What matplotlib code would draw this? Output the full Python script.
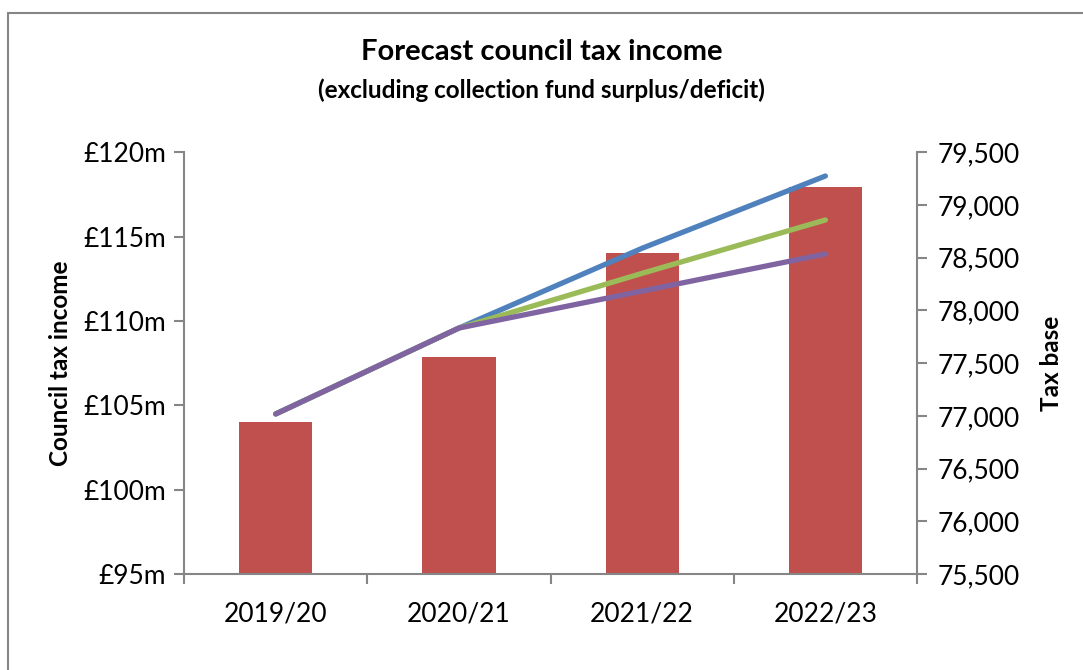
import matplotlib.pyplot as plt
from matplotlib.patches import Rectangle
from matplotlib.ticker import FuncFormatter, MultipleLocator
import numpy as np

# data
years = ['2019/20', '2020/21', '2021/22', '2022/23']
income = [104.03, 107.88, 114.05, 117.92]          # £m, bars (left axis)
base_high = [77018, 77833, 78590, 79275]           # tax base, blue
base_mid = [77018, 77833, 78352, 78858]            # tax base, green
base_low = [77018, 77833, 78184, 78535]            # tax base, purple

plt.rcParams['font.family'] = ['Lato', 'DejaVu Sans']
grey = '#868686'

fig = plt.figure(figsize=(10.83, 6.70), dpi=100)
ax = fig.add_axes([0.170, 0.1433, 0.6767, 0.6294])
ax2 = ax.twinx()

x = np.arange(len(years))
ax.bar(x, income, width=0.4, color='#C0504D', zorder=2)

ax2.plot(x, base_high, color='#4F81BD', lw=3.8, solid_capstyle='round', zorder=3)
ax2.plot(x, base_mid, color='#9BBB59', lw=3.8, solid_capstyle='round', zorder=4)
ax2.plot(x, base_low, color='#8064A2', lw=3.8, solid_capstyle='round', zorder=5)

ax.set_xlim(-0.5, 3.5)
ax.set_ylim(95, 120)
ax2.set_ylim(75500, 79500)
ax.yaxis.set_major_locator(MultipleLocator(5))
ax2.yaxis.set_major_locator(MultipleLocator(500))
ax.yaxis.set_major_formatter(FuncFormatter(lambda v, p: f'£{v:.0f}m'))
ax2.yaxis.set_major_formatter(FuncFormatter(lambda v, p: f'{v:,.0f}'))

# category ticks sit between the groups
ax.set_xticks(x)
ax.set_xticklabels(years, fontsize=19)
ax.set_xticks(np.arange(-0.5, 4, 1), minor=True)
ax.tick_params(axis='x', which='major', length=0, pad=20)
ax.tick_params(axis='x', which='minor', length=7, color=grey, width=1.5, direction='out')
ax.tick_params(axis='y', length=7, color=grey, width=1.5, labelsize=19, pad=6)
ax2.tick_params(axis='y', length=7, color=grey, width=1.5, labelsize=19, pad=8)

for a in (ax, ax2):
    for s in a.spines.values():
        s.set_visible(False)
ax.spines['left'].set_visible(True)
ax.spines['bottom'].set_visible(True)
ax2.spines['right'].set_visible(True)
for s in (ax.spines['left'], ax.spines['bottom'], ax2.spines['right']):
    s.set_color(grey)
    s.set_linewidth(1.5)

ax.set_ylabel('Council tax income', fontsize=17.5, fontweight='bold', labelpad=8)
ax2.set_ylabel('Tax base', fontsize=17.5, fontweight='bold', labelpad=14)

fig.text(0.5, 0.922, 'Forecast council tax income', ha='center', va='center',
         fontsize=21, fontweight='bold')
fig.text(0.5, 0.866, '(excluding collection fund surplus/deficit)', ha='center', va='center',
         fontsize=17.5, fontweight='bold')

# chart border
fig.patches.append(Rectangle((8 / 1083, -0.05), 1.1, 1 - 13 / 670 + 0.05,
                             transform=fig.transFigure, fill=False,
                             edgecolor=grey, lw=1.5))

fig.savefig('out.png', dpi=100)
